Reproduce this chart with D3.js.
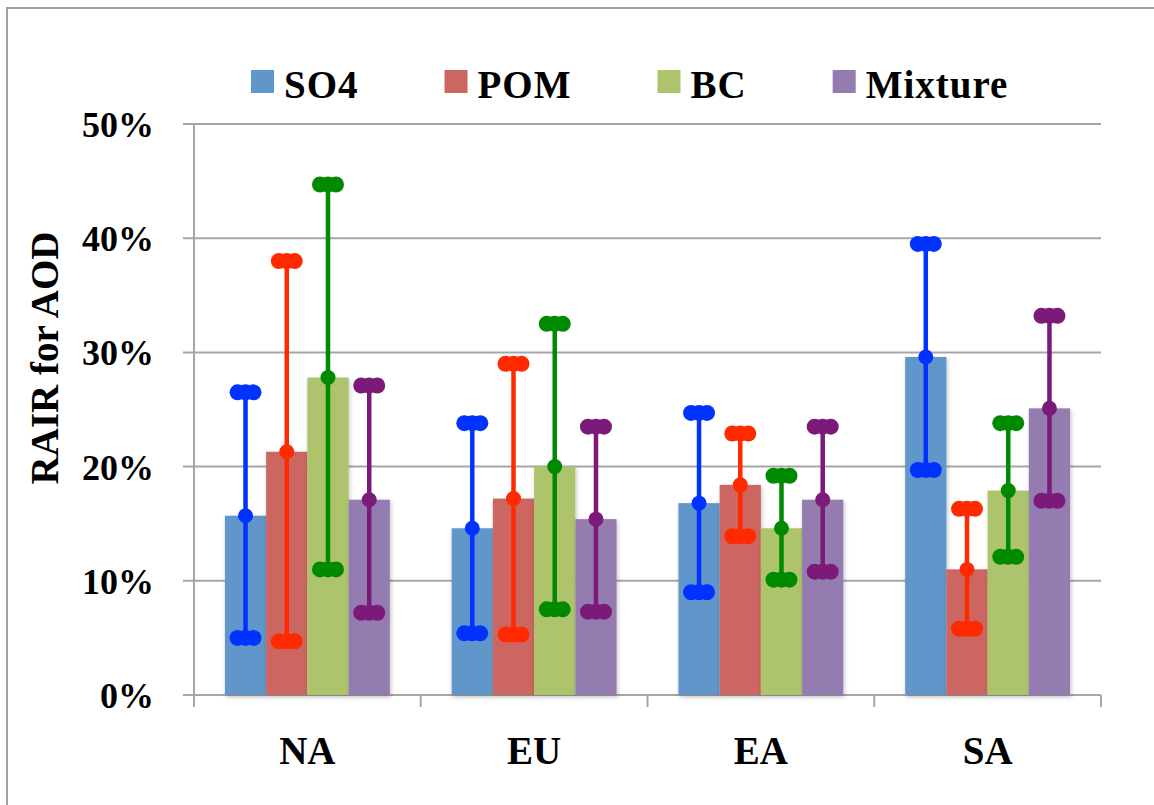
<!DOCTYPE html>
<html><head><meta charset="utf-8">
<script src="https://cdn.jsdelivr.net/npm/d3@7"></script>
<style>body{margin:0;background:#fff}svg{display:block}text{font-family:"Liberation Serif","Times New Roman",serif;font-weight:bold;fill:#000}</style>
</head><body><svg id="c" width="1154" height="805"></svg>
<script>
const categories = ["NA","EU","EA","SA"];
const series = ["SO4","POM","BC","Mixture"];
// mean values (%)
const SO4 = [15.7,14.6,16.8,29.6];
const POM = [21.3,17.2,18.4,11.0];
const BC = [27.8,20.0,14.6,17.9];
const Mixture = [17.1,15.4,17.1,25.1];
// error ranges low/high (%)
const SO4_low = [5.0,5.4,9.0,19.7], SO4_high = [26.5,23.8,24.7,39.5];
const POM_low = [4.7,5.3,13.9,5.8], POM_high = [38.0,29.0,22.9,16.3];
const BC_low = [11.0,7.5,10.1,12.1], BC_high = [44.7,32.5,19.2,23.8];
const Mix_low = [7.2,7.3,10.8,17.0], Mix_high = [27.1,23.5,23.5,33.2];
const yTicks = [0,10,20,30,40,50];
const barColors = ["#6096c9","#cc6660","#adc46c","#947bb0"];
const errColors = ["#0033ff","#ff2a00","#008a00","#7b1a78"];

const vals = [SO4,POM,BC,Mixture];
const lows = [SO4_low,POM_low,BC_low,Mix_low];
const highs = [SO4_high,POM_high,BC_high,Mix_high];

const svg = d3.select("#c");
// frame
svg.append("rect").attr("x",7).attr("y",8).attr("width",1170).attr("height",820)
  .attr("fill","none").attr("stroke","#a3a3a3").attr("stroke-width",2);

const pL=194,pR=1101,pT=124,pB=695;
const x0 = d3.scaleBand().domain(categories).range([pL,pR]);
const x1 = d3.scaleBand().domain(series).range([0,x0.bandwidth()]).paddingOuter(0.75);
const y = d3.scaleLinear().domain([0,50]).range([pB,pT]);

const defs = svg.append("defs");
const f = defs.append("filter").attr("id","sh").attr("x","-20%").attr("y","-5%").attr("width","140%").attr("height","115%");
f.append("feDropShadow").attr("dx",1).attr("dy",2).attr("stdDeviation",2).attr("flood-color","#000").attr("flood-opacity",0.25);

// gridlines
svg.append("g").selectAll("line").data(yTicks).join("line")
  .attr("x1",pL-11).attr("x2",pR).attr("y1",d=>y(d)).attr("y2",d=>y(d))
  .attr("stroke","#a6a6a6").attr("stroke-width",2);
// y axis line
svg.append("line").attr("x1",pL).attr("x2",pL).attr("y1",pT).attr("y2",pB+12)
  .attr("stroke","#a6a6a6").attr("stroke-width",2);
// category ticks
const catEdges = categories.map(c=>x0(c)).concat([pR]);
svg.append("g").selectAll("line").data(catEdges.slice(1)).join("line")
  .attr("x1",d=>d).attr("x2",d=>d).attr("y1",pB).attr("y2",pB+12)
  .attr("stroke","#a6a6a6").attr("stroke-width",2);

// y tick labels
svg.append("g").selectAll("text").data(yTicks).join("text")
  .attr("x",154).attr("y",d=>y(d)+13).attr("text-anchor","end")
  .style("font-size","36px").text(d=>d+"%");

// category labels
svg.append("g").selectAll("text").data(categories).join("text")
  .attr("x",c=>x0(c)+x0.bandwidth()/2).attr("y",764).attr("text-anchor","middle")
  .style("font-size","39px").text(c=>c);

// y title
svg.append("text").attr("transform","translate(58,358) rotate(-90)").attr("text-anchor","middle")
  .style("font-size","39px").text("RAIR for AOD");

// bars
series.forEach((s,si)=>{
  const g = svg.append("g").attr("filter","url(#sh)");
  g.selectAll("rect").data(categories).join("rect")
    .attr("x",c=>x0(c)+x1(s)).attr("width",x1.bandwidth())
    .attr("y",(c,i)=>y(vals[si][i])).attr("height",(c,i)=>pB-y(vals[si][i]))
    .attr("fill",barColors[si]);
});
// error bars
series.forEach((s,si)=>{
  const g = svg.append("g").attr("fill",errColors[si]).attr("stroke",errColors[si]);
  categories.forEach((c,i)=>{
    const cx = x0(c)+x1(s)+x1.bandwidth()/2;
    g.append("line").attr("x1",cx).attr("x2",cx).attr("y1",y(lows[si][i])).attr("y2",y(highs[si][i])).attr("stroke-width",4.5);
    [lows[si][i],highs[si][i]].forEach(v=>{
      [-8,0,8].forEach(dx=>g.append("circle").attr("cx",cx+dx).attr("cy",y(v)).attr("r",8).attr("stroke","none"));
    });
    g.append("circle").attr("cx",cx).attr("cy",y(vals[si][i])).attr("r",7.5).attr("stroke","none");
  });
});

// legend
const lg = svg.append("g");
let lx = 251;
series.forEach((s,si)=>{
  lg.append("rect").attr("x",lx).attr("y",70).attr("width",23).attr("height",23).attr("fill",barColors[si]);
  const t = lg.append("text").attr("x",lx+33).attr("y",98).style("font-size","39px").style("letter-spacing","1px").text(s);
  lx = lx+33+t.node().getComputedTextLength()+86;
});
</script></body></html>
